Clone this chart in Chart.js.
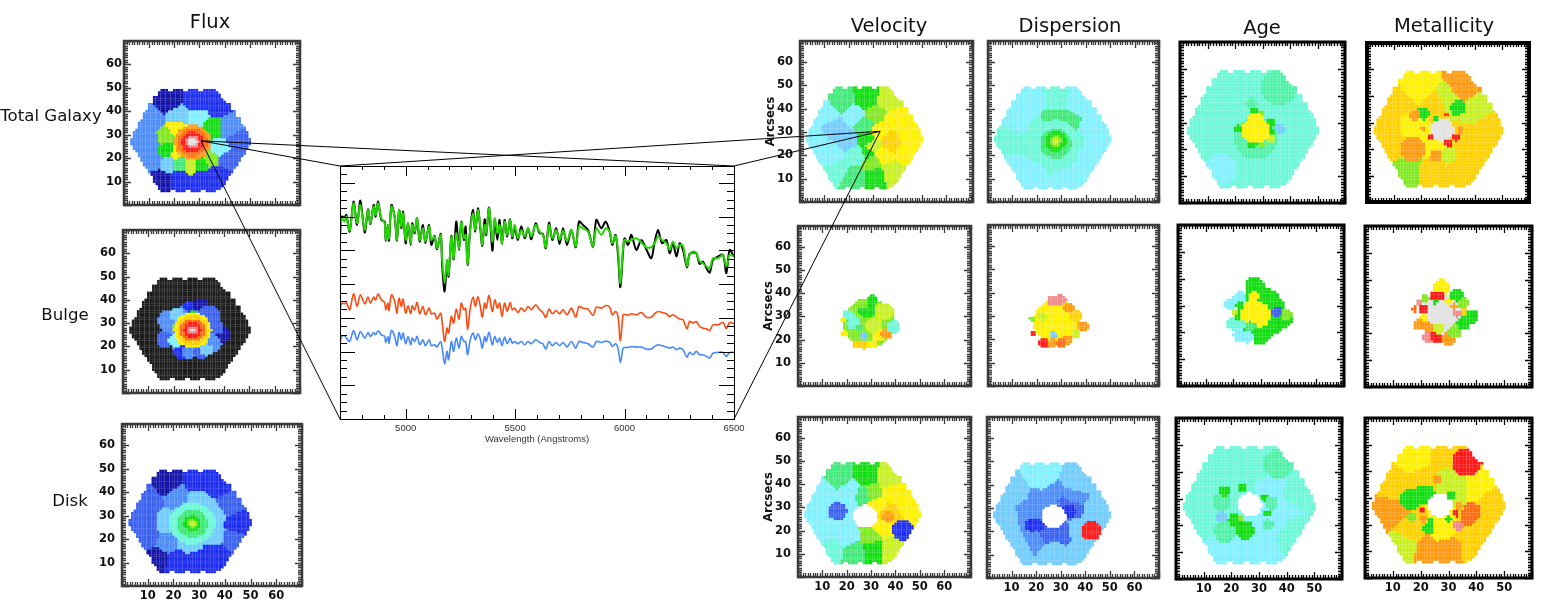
<!DOCTYPE html>
<html>
<head>
<meta charset="utf-8">
<title>Spectral decomposition maps</title>
<script src="https://cdn.jsdelivr.net/npm/chart.js@4/dist/chart.umd.min.js"></script>
<style>
    html, body { margin: 0; padding: 0; background: #fff; overflow: hidden; }
    #page { position: relative; width: 1565px; height: 604px; overflow: hidden; }
    canvas { position: absolute; display: block; }
    canvas.soft { filter: blur(0.55px); }
    canvas.crisp { filter: blur(0.4px); }
    canvas.spectrum { filter: blur(0.3px); }
    .label { position: absolute; font-family: "DejaVu Sans", sans-serif; color: #111; white-space: nowrap; transform: translate(-50%, -50%); }
    .title { font-size: 19.5px; }
    .row { font-size: 16.6px; }
</style>
</head>
<body>
<div id="page"></div>
<script>
// Colour levels of the rainbow table used by the binned maps
const levels = {
    K: '#1c1c1c', N: '#1414a8', B: '#1c2cf0', M: '#3a60f0', L: '#4c8cfa', S: '#70ccff',
    C: '#80f0ff', A: '#6cf8d8', T: '#50f0a8', E: '#40e878', G: '#10dc10', H: '#80e820',
    V: '#c8f020', Y: '#fff000', O: '#ffd000', R: '#ff9a10', D: '#ff6a10', X: '#ff1818',
    P: '#f08888', W: '#e2e2e2'
};

// Spaxel extent of the hexagonal field, one [y, xMin, xMax] per row
const fieldRows = [
    [49,15,36],[48,14,37],[47,14,38],[46,12,38],[45,12,39],[44,12,40],[43,10,42],[42,10,42],
    [41,10,42],[40,9,44],[39,8,44],[38,8,44],[37,8,46],[36,7,46],[35,6,46],[34,6,47],
    [33,6,48],[32,5,48],[31,4,49],[30,4,49],[29,4,49],[28,3,50],[27,3,50],[26,3,50],
    [25,4,49],[24,4,49],[23,5,48],[22,6,48],[21,6,47],[20,7,46],[19,7,46],[18,8,45],
    [17,8,45],[16,9,44],[15,10,43],[14,10,43],[13,11,42],[12,12,41],[11,12,41],[10,12,40],
    [9,13,40],[8,14,39],[7,14,38],[6,15,36]
];
// Gaps between the fibre bumps along the top and bottom edges, [y, x]
const fieldNotches = [
    [49,18],[49,19],[49,24],[49,25],[49,30],[49,31],
    [6,19],[6,20],[6,25],[6,26],[6,31],[6,32]
];

// Map bins: [x, y, level] are Voronoi generators, [x, y, level, r] are round bins painted on top
const fluxTotalBins = [
    [18,44.5,'N'],[29.3,43.8,'B'],[36.6,43,'B'],[10.6,27.5,'L'],[10.6,36,'L'],[12,19,'L'],[42,33,'L'],[45,27.5,'M'],[41,19.7,'M'],
    [14.6,11,'N'],[22.6,10.5,'B'],[30.6,10.5,'B'],[37,13,'B'],[22,38,'S'],[29.3,37.4,'C'],[34.6,32.5,'G'],[21.3,32.5,'Y'],
    [16.6,29,'H'],[17.3,23.3,'G'],[17.3,17.6,'S'],[22.6,17.6,'E'],[26.3,17,'V'],[30.6,17.6,'G'],[34.6,19.7,'H'],[38,24,'C'],[21,22.5,'Y'],
    [27.3,26.8,'R',7.5],[27.3,26.8,'D',6],[27.3,26.8,'X',4.5],[27.3,26.8,'P',2.8],[27.3,26.8,'W',1.8]
];
const fluxBulgeBins = [
    [27,27,'K'],[27.5,27,'L',11],[26.1,37.4,'B',2.5],[30.8,38,'N',3],[18.8,31,'L',5],[34,32.5,'M',5],[39.5,25.4,'N',3.5],[36.8,28,'M',3],
    [16.8,23,'M',3.5],[22.8,17.6,'B',3],[26.1,17.6,'L',3],[30.8,17.6,'M',3],[35.5,21,'L',3.5],[33,18.5,'S',2.5],[21.2,33.9,'S',3],
    [27.5,33.5,'G',2],[21.5,28.2,'H',2],[20.8,22.5,'C',3],[27.5,27,'Y',7.5],[27.5,27,'O',6.5],[27.5,27,'D',5],[27.5,27,'X',3.5],[27.5,27,'P',2],[27.5,27,'W',1]
];
const fluxDiskBins = [
    [17.6,44,'N'],[29.3,44.4,'B'],[37,43,'B'],[9.8,36.6,'M'],[8.5,26.7,'M'],[10.4,20.3,'M'],[41.6,34.5,'M'],[45.5,26.7,'B'],[43,19.6,'M'],
    [13.7,12.5,'N'],[21.5,11,'B'],[29.3,11,'B'],[36.4,14,'B'],[22,38,'L'],[17,18,'L'],[29.3,36.6,'S'],[17.5,26.7,'S'],[35.8,31,'S'],[26.6,18,'S'],[35.8,21,'S'],
    [27.3,26.7,'A',9],[27.3,26.7,'E',6],[27.3,26.7,'G',3.5],[27.3,26.7,'H',2],[27.3,26.7,'V',1]
];
const velocityTotalBins = [
    [17,43.3,'E'],[27.4,44,'G'],[36.3,43.3,'V'],[11,38.3,'C'],[22.6,36.9,'C'],[15,31,'S'],[19,27,'S'],[6.8,25.4,'C'],[13,21,'C'],
    [15.7,14,'A'],[22,11,'E'],[30.8,11.1,'G'],[29.5,16.9,'H'],[37.7,12.6,'V'],[38.4,35.4,'Y'],[37,25.4,'O'],[45,28.3,'Y'],[43.9,21,'Y'],
    [33.6,20.4,'Y'],[30.8,37.6,'H'],[26.7,33,'E'],[27.5,27,'G'],[28,21,'G'],[29.5,24,'V'],[32,30,'Y'],[24,20,'A']
];
const dispersionTotalBins = [
    [18.8,42.6,'C'],[27.7,43.3,'A'],[36.6,41,'C'],[13.3,34,'C'],[42,32.6,'C'],[9.2,26.9,'A'],[44.8,25.4,'C'],[13.3,14,'C'],[27,15.4,'A'],
    [20.2,11,'C'],[29.8,10.4,'C'],[38,14,'C'],[40.7,19.7,'C'],[20.2,31,'A'],[35.2,25.4,'A'],[27,36,'E'],[33.9,35.4,'E'],[22,22,'A'],[33,20,'A'],[16,25,'A'],
    [27.7,26.1,'A',9],[27.7,25,'E',6.5],[27.7,26.1,'G',4.5],[27.7,26.1,'H',2.5],[27.7,26.1,'V',1.5]
];
const ageTotalBins = [
    [18.8,33,'A'],[30,12,'A'],[40,25,'A'],
    [36,43,'T',6.5],[15,12.5,'C',6],[36.4,27.7,'S',2],[26,37,'T',2],[27.5,24,'T',8],[27,34,'G',1.5],[32.7,29.6,'G',2],[33.3,26.5,'G',1.5],[21,27.6,'G',1.5],[26.3,22.1,'G',2],
    [29.7,22.1,'H',1.5],[29.5,33.3,'H',1],[32.9,24,'V',1.5],[27.5,27.1,'Y',5],[27.5,30.8,'Y',3]
];
const metalTotalBins = [
    [19,43.4,'Y'],[7.9,28.4,'O'],[11.6,37,'O'],[10.4,21,'O'],[24,11,'O'],[33.8,11,'O'],[41.2,18.5,'O'],[46.2,28.4,'O'],[36.3,43.4,'R'],[41.2,36,'V'],
    [30.1,37.8,'V'],[15.3,12.2,'H'],[16.6,28.4,'Y'],[26,36,'O'],[22,23,'Y'],[36,24,'O'],
    [17,20,'R',4.5],[25.8,17.5,'R',2.5],[30.1,17.8,'V',3],[20.9,33.4,'G',2.5],[33.8,35.3,'G',3],[27.7,27.2,'W',4.5],[29.3,33,'X',1],[23.6,24.7,'X',1],[32.9,24.4,'X',1.5],[30.1,22.2,'X',1.5],[17.8,32.8,'R',2],
    [25.6,31.7,'G',1],[20.9,27.7,'R',1],[36.9,31.6,'V',2.5],[34.5,27.2,'R',1.5]
];
const velocityBulgeBins = [
    [29,27,'H',10.5],[31.1,26.2,'H',7],[24.3,18,'O',2],[27,18,'O',2],[30.5,18,'Y',2],[33.2,22,'Y',3],[36.4,22.7,'R',2.5],[39.1,25.5,'A',2.7],[35.3,32,'V',4],
    [28.4,32.7,'G',3.5],[30.5,37.3,'G',2],[26.3,35.5,'H',2.5],[22.9,27,'A',3],[20.9,30.5,'A',2.5],[25,24.8,'E',2],[22.9,22,'H',2.5],[18.8,22.7,'Y',1.5],
    [18.4,28.7,'Y',1],[31.1,26.2,'V',3.5],[27,21.5,'S',1.6]
];
const dispersionBulgeBins = [
    [28,27.5,'Y',9.5],[18.1,28.7,'H',1.2],[22.2,29.8,'V',2],[26.3,36.3,'P',2.3],[29.8,37,'P',2.3],[33.2,33.4,'R',2.3],[35.9,29.8,'O',2.5],[38.7,25.5,'R',2.5],
    [36,22.7,'V',2],[32.5,19.8,'R',2],[22.9,18.4,'X',2.2],[26.3,18.4,'R',2],[29.8,18.4,'D',2.2],[18.5,22.7,'X',1.3],[26.7,21.7,'S',1.6]
];
const ageBulgeBins = [
    [30,27,'G',9],[27.8,37,'G',3.5],[32.6,32.1,'G',4],[37.4,25.2,'G',4],[39.2,26.5,'H',2],[35,22.8,'G',3],[31.4,19.6,'G',3],[29.6,17.8,'G',2.5],[35.6,27.7,'M',2],
    [27.8,26.5,'Y',5.5],[27.2,33.3,'Y',2],[22.4,32.7,'C',2.5],[18.8,30.2,'C',2],[20,23.4,'A',2.5],[23,22.8,'A',2],[26.3,22.1,'E',2],[22.4,19,'C',2.5],
    [24.8,18.4,'C',2.5],[22.4,30.2,'G',1.5],[21.2,25.9,'G',1],[20.6,27.7,'V',1]
];
const metalBulgeBins = [
    [28.2,26.9,'W',7.5],[27.6,37.1,'Y',3],[25.2,34,'X',2],[27,34,'X',1.5],[21.6,32.7,'H',1.5],[19.5,31.2,'P',1.2],[17.8,29.1,'D',1.2],[21,28.8,'X',2],[21,25.6,'Y',1.5],
    [19.2,23.2,'R',2],[22.8,22.2,'R',2],[22.8,18.2,'P',2],[25.8,18.8,'X',2.5],[30,18.2,'R',2.5],[26.4,21.9,'V',2],[32.4,20.7,'H',2.5],[35.4,23.8,'G',2.5],
    [38.4,26.3,'G',2.5],[35.4,28.1,'O',1.5],[33,27.3,'P',1.4],[31.8,30,'R',1.2],[30,31.9,'Y',1.2],[33,34.4,'G',2.5],[35.4,31.2,'H',2],[25.2,31.6,'G',1]
];
const velocityDiskBins = [
    [17.3,43,'E'],[27.6,43.8,'G'],[37.2,42.4,'V'],[10.5,36.7,'C'],[21.4,37.4,'C'],[26.9,35.2,'E'],[30.4,36,'H'],[7.7,26.7,'C'],[10.5,19.5,'C'],[14.6,12.4,'A'],
    [22.8,11,'E'],[20,16.7,'C'],[31,12.4,'G'],[30.4,17.4,'H'],[37.9,12.4,'V'],[39.3,36,'Y'],[45.4,31,'Y'],[37.2,27.4,'O'],[34.5,21,'Y'],[32.4,31,'Y'],[20,31,'C'],[16,24,'C'],
    [16.2,28.4,'M',4],[37,26,'R',2.5],[27.6,26.2,' ',5],[43.1,20.2,'B',4.5]
];
const dispersionDiskBins = [
    [11,36,'S'],[8,27,'S'],[23,42.8,'C'],[36,41,'S'],[45,28,'S'],[12,13,'S'],[27,11,'S'],[38,13,'S'],[16.2,28.5,'L'],[27.2,36.3,'L'],[34.1,34.9,'L'],[20.4,17,'L'],
    [31.3,19.2,'M'],[23.1,18.5,'M'],[33.5,30,'M'],[36,20,'S'],[22,33,'L'],
    [18.3,22.8,'B',3],[21,22.5,'B',2.5],[31,33,'M',2],[33.4,28.5,'B',3],[42.3,20.2,'X',4.2],[27.2,26.3,' ',5]
];
const ageDiskBins = [
    [17.7,11.4,'C'],[29.7,12.7,'C'],[8,31.3,'A'],[20,43.8,'A'],[30,42,'A'],[43,31.3,'A'],[42,18,'A'],[34.5,33.8,'C'],[39.3,26.3,'C'],[35.7,21.4,'C'],[22,35,'A'],[13,22,'A'],
    [37,43.1,'T',5.5],[16.5,28.8,'T',3.5],[17.7,32.8,'G',2.2],[23.9,34,'G',1.5],[26.7,27.6,' ',4.5],[32.1,30.1,'G',1.5],[32.7,24.5,'G',1.5],[34.5,28.2,'T',2.5],[16.5,23.2,'S',2.3],
    [17.7,17.6,'T',4],[21.3,22,'G',2.5],[24.9,18.3,'G',3.5],[23.7,22.6,'H',1],[33.3,20.1,'T',2]
];
const metalDiskBins = [
    [19.2,43.5,'Y'],[27.6,44,'O'],[10.8,34.7,'O'],[8.4,24.8,'R'],[14.4,12.4,'V'],[22.2,11.1,'R'],[30,11.1,'R'],[38.4,12.4,'O'],[45.6,27.3,'O'],[39.6,34.7,'Y'],
    [21,38.5,'O'],[30,37.9,'V'],[34.2,34.7,'V'],[16.8,17.3,'O'],[36,17.3,'O'],[28.2,18,'Y'],
    [36.6,43.5,'X',5.5],[16.5,29.5,'G',4],[21.5,31,'G',4],[25.8,37.2,'R',1.8],[27,27.3,' ',4.5],[31.2,31,'G',1.8],[38.4,24.8,'D',3.5],[36.6,21.7,'D',2.5],[33.4,19.8,'P',2],
    [32.7,24.2,'X',1.3],[20.4,25.4,'X',1.2],[16.8,22.9,'H',2],[21,22.4,'R',1.5],[22.8,18.6,'G',2.2],[23.4,21.7,'G',1.2],[30,21.9,'G',1.2],[33.6,27.3,'R',1.5]
];

// Spectrum: wavelength grid (Angstroms) and flux of the four curves in arbitrary units
const wavelengths = [
    4700,4708,4721,4729,4744,4762,4778,4793,4813,4828,
    4839,4854,4863,4874,4889,4904,4909,4919,4924,4935,
    4950,4960,4970,4980,4988,5000,5011,5023,5030,5041,
    5052,5064,5079,5090,5107,5117,5132,5143,5160,5167,
    5178,5189,5196,5209,5219,5231,5244,5254,5266,5274,
    5283,5295,5308,5318,5330,5341,5350,5361,5368,5381,
    5396,5407,5419,5429,5440,5452,5464,5477,5487,5498,
    5513,5528,5544,5559,5574,5594,5612,5627,5640,5655,
    5670,5688,5703,5719,5737,5757,5777,5792,5810,5833,
    5856,5871,5894,5914,5932,5944,5959,5970,5981,5993,
    6000,6016,6031,6054,6077,6099,6122,6137,6153,6171,
    6191,6206,6221,6237,6252,6267,6285,6297,6313,6328,
    6343,6358,6374,6389,6404,6427,6450,6465,6480,6500
];
const observedFlux = [
    556,608,606,613,563,653,583,656,560,630,
    586,643,608,653,598,593,536,583,536,643,
    606,536,628,573,623,528,588,523,588,558,
    603,533,583,528,583,523,550,510,556,458,
    383,468,428,550,480,593,508,593,538,578,
    463,573,628,563,633,573,520,600,553,635,
    506,598,538,598,526,598,548,600,543,573,
    538,578,543,573,540,588,558,556,513,590,
    538,573,526,573,523,568,516,593,583,568,
    518,598,573,593,563,523,553,493,396,503,
    543,523,553,508,538,510,483,530,568,528,
    538,498,528,488,528,508,456,496,500,498,
    466,473,453,440,478,488,493,438,508,488
];
const modelFlux = [
    553,603,593,608,566,648,588,643,568,628,
    588,638,613,648,603,588,538,583,543,638,
    608,538,628,578,618,538,588,528,583,563,
    603,538,573,533,578,538,548,513,553,478,
    408,478,433,548,483,558,513,593,543,553,
    466,568,618,568,628,578,523,583,558,633,
    533,603,558,583,528,593,553,598,548,583,
    543,568,548,573,548,583,563,553,516,583,
    543,568,538,566,533,568,518,578,573,563,
    520,573,553,573,563,528,550,508,408,513,
    538,533,538,543,530,516,516,528,548,538,
    528,508,533,513,523,520,460,493,503,498,
    473,468,458,453,483,483,493,458,493,488
];
const bulgeFlux = [
    326,348,346,350,328,376,338,373,346,366,
    348,366,358,376,358,350,328,348,326,373,
    353,318,363,338,360,318,340,316,340,328,
    350,316,338,313,333,316,318,300,318,288,
    233,273,258,308,288,330,300,348,328,333,
    268,333,366,338,368,338,306,348,333,371,
    323,358,333,348,308,348,323,350,328,333,
    320,333,323,338,328,343,328,320,305,330,
    316,326,316,328,313,333,306,338,333,330,
    311,336,333,341,336,313,323,308,235,313,
    314,312,316,313,320,306,306,316,323,320,
    316,308,313,306,300,298,271,293,288,293,
    278,273,271,266,283,283,290,272,290,286
];
const diskFlux = [
    228,248,250,243,233,266,238,263,243,260,
    248,260,253,265,253,248,230,248,228,266,
    248,220,260,238,258,226,248,223,243,233,
    248,223,238,220,238,220,223,216,233,213,
    166,203,178,233,203,243,213,248,233,233,
    193,238,258,238,256,240,213,248,233,260,
    223,248,230,243,220,246,226,243,228,233,
    226,233,223,233,226,238,230,226,210,233,
    220,230,220,230,216,233,213,233,230,226,
    216,233,230,234,230,218,226,213,170,213,
    215,215,218,216,216,210,210,218,223,220,
    216,213,216,208,213,208,186,200,193,203,
    193,193,188,183,198,200,200,188,200,200
];

const tickValues = [10, 20, 30, 40, 50, 60];
const spectrumLabels = [5000, 5500, 6000, 6500];

// Panel boxes on the page: left, right, top, bottom, axis range, frame weight, which labels show
const panels = [
    { bins: fluxTotalBins,       l: 123.5, r: 299,   t: 41,  b: 204.5, xMax: 70, yMax: 70, w: 2.5, yl: 2 },
    { bins: fluxBulgeBins,       l: 123,   r: 300,   t: 230, b: 393,   xMax: 70, yMax: 70, w: 2.5, yl: 7 },
    { bins: fluxDiskBins,        l: 122,   r: 301.5, t: 424, b: 586,   xMax: 70, yMax: 69, w: 2.5, yl: 7, xl: true },
    { bins: velocityTotalBins,   l: 800,   r: 972.5, t: 41,  b: 202,   xMax: 71, yMax: 69, w: 2.5, yl: 7, arc: true },
    { bins: dispersionTotalBins, l: 988,   r: 1159,  t: 41,  b: 202,   xMax: 70, yMax: 69, w: 2.5 },
    { bins: ageTotalBins,        l: 1180,  r: 1345,  t: 42,  b: 203,   xMax: 60, yMax: 60, w: 3, black: true },
    { bins: metalTotalBins,      l: 1367,  r: 1529,  t: 43,  b: 202,   xMax: 60, yMax: 60, w: 4, black: true },
    { bins: velocityBulgeBins,   l: 798,   r: 970.5, t: 226, b: 386,   xMax: 71, yMax: 69, w: 2.5, yl: 7, arc: true },
    { bins: dispersionBulgeBins, l: 988,   r: 1159,  t: 225, b: 386,   xMax: 70, yMax: 69, w: 2.5 },
    { bins: ageBulgeBins,        l: 1178,  r: 1344,  t: 225, b: 386,   xMax: 60, yMax: 60, w: 3, black: true },
    { bins: metalBulgeBins,      l: 1365,  r: 1532,  t: 226, b: 387,   xMax: 60, yMax: 60, w: 3, black: true },
    { bins: velocityDiskBins,    l: 798,   r: 970.5, t: 417, b: 577,   xMax: 71, yMax: 69, w: 2.5, yl: 7, xl: true, arc: true },
    { bins: dispersionDiskBins,  l: 987,   r: 1159,  t: 417, b: 578,   xMax: 70, yMax: 69, w: 2.5, xl: true },
    { bins: ageDiskBins,         l: 1176,  r: 1342,  t: 418, b: 579,   xMax: 60, yMax: 60, w: 3, black: true, xl: true },
    { bins: metalDiskBins,       l: 1365,  r: 1532,  t: 418, b: 578,   xMax: 60, yMax: 60, w: 3, black: true, xl: true }
];

const page = document.getElementById('page');

function addCanvas(left, top, width, height, cls) {
    const canvas = document.createElement('canvas');
    canvas.width = width;
    canvas.height = height;
    canvas.style.left = left + 'px';
    canvas.style.top = top + 'px';
    canvas.style.width = width + 'px';
    canvas.style.height = height + 'px';
    if (cls) canvas.className = cls;
    page.appendChild(canvas);
    return canvas;
}

function addLabel(text, x, y, cls) {
    const div = document.createElement('div');
    div.className = 'label ' + cls;
    div.textContent = text;
    div.style.left = x + 'px';
    div.style.top = y + 'px';
    page.appendChild(div);
}

// Assign every spaxel of the field to its nearest generator, then paint the round bins
function spaxelDatasets(bins, size) {
    const generators = bins.filter(b => b.length === 3);
    const rounds = bins.filter(b => b.length === 4);
    const groups = {};
    fieldRows.forEach(([y, xMin, xMax]) => {
        for (let x = xMin; x <= xMax; x++) {
            if (fieldNotches.some(n => n[0] === y && n[1] === x)) continue;
            let level = null;
            let best = Infinity;
            generators.forEach(g => {
                const d = (g[0] - x) ** 2 + (g[1] - y) ** 2;
                if (d < best) { best = d; level = g[2]; }
            });
            rounds.forEach(c => {
                if ((c[0] - x) ** 2 + (c[1] - y) ** 2 <= c[3] * c[3]) level = c[2];
            });
            if (!level || level === ' ') continue;
            (groups[level] = groups[level] || []).push({ x, y });
        }
    });
    return Object.keys(groups).map(key => ({
        data: groups[key],
        backgroundColor: levels[key],
        borderWidth: 0,
        pointStyle: 'rect',
        pointRadius: size * Math.SQRT1_2
    }));
}

// Inward tick marks on all four sides of a plot, minor and major
function drawTicks(chart, ctx, xStep, xMajor, yStep, yMajor, xLen, xMinorLen, yLen, yMinorLen) {
    const { x: sx, y: sy } = chart.scales;
    const area = chart.chartArea;
    ctx.beginPath();
    for (let v = Math.ceil(sx.min / xStep) * xStep; v <= sx.max; v += xStep) {
        const px = Math.round(sx.getPixelForValue(v)) + 0.5;
        const len = Math.abs(v / xMajor - Math.round(v / xMajor)) < 1e-6 ? xLen : xMinorLen;
        ctx.moveTo(px, area.bottom); ctx.lineTo(px, area.bottom - len);
        ctx.moveTo(px, area.top); ctx.lineTo(px, area.top + len);
    }
    for (let v = 0; v <= sy.max + 1e-6; v += yStep) {
        const py = Math.round(sy.getPixelForValue(v)) + 0.5;
        const len = Math.abs(v / yMajor - Math.round(v / yMajor)) < 1e-6 ? yLen : yMinorLen;
        ctx.moveTo(area.left, py); ctx.lineTo(area.left + len, py);
        ctx.moveTo(area.right, py); ctx.lineTo(area.right - len, py);
    }
    ctx.stroke();
}

const mapFrame = {
    id: 'mapFrame',
    afterDatasetsDraw(chart, args, opts) {
        const ctx = chart.ctx;
        const a = chart.chartArea;
        ctx.save();
        ctx.strokeStyle = opts.color;
        ctx.lineWidth = 1.3;
        drawTicks(chart, ctx, 1, 10, 1, 10, 7, 4, 7, 4);
        ctx.lineWidth = opts.weight;
        ctx.strokeRect(a.left, a.top, a.right - a.left, a.bottom - a.top);
        ctx.restore();
    }
};

const spectrumFrame = {
    id: 'spectrumFrame',
    afterDatasetsDraw(chart) {
        const ctx = chart.ctx;
        const a = chart.chartArea;
        ctx.save();
        ctx.strokeStyle = '#000';
        ctx.lineWidth = 1;
        drawTicks(chart, ctx, 100, 500, 760 / 30, 760 / 7.5, 10, 4, 15, 7);
        ctx.strokeRect(a.left + 0.5, a.top + 0.5, a.right - a.left, a.bottom - a.top);
        ctx.restore();
    }
};

// Margins stay larger than the half-label padding the scales ask for, so each plot area lands on its box
const MARGIN = { left: 48, right: 16, top: 16, bottom: 24 };
const mapCharts = panels.map(p => {
    const canvas = addCanvas(Math.round(p.l) - MARGIN.left, Math.round(p.t) - MARGIN.top,
        Math.round(p.r - p.l) + MARGIN.left + MARGIN.right, Math.round(p.b - p.t) + MARGIN.top + MARGIN.bottom,
        p.black ? 'crisp' : 'soft');
    const tickLabels = max => v => (tickValues.includes(v) && v < max ? String(v) : '');
    const tickFont = { family: 'DejaVu Sans', size: 11.5, weight: 'bold' };
    const size = Math.max((p.r - p.l) / p.xMax, (p.b - p.t) / p.yMax) * 1.02;
    return new Chart(canvas, {
        type: 'scatter',
        data: { datasets: spaxelDatasets(p.bins, size) },
        options: {
            responsive: false,
            animation: false,
            events: [],
            layout: { padding: { top: MARGIN.top, right: MARGIN.right } },
            plugins: {
                legend: { display: false },
                tooltip: { enabled: false },
                mapFrame: { color: p.black ? '#000' : '#3a3a3a', weight: p.w }
            },
            scales: {
                x: {
                    type: 'linear', min: 0, max: p.xMax,
                    grid: { display: false, drawTicks: false }, border: { display: false },
                    afterFit: s => { s.height = MARGIN.bottom; },
                    ticks: { stepSize: 10, autoSkip: false, maxRotation: 0, padding: 3, color: '#111', font: tickFont, display: !!p.xl, callback: tickLabels(p.xMax) }
                },
                y: {
                    type: 'linear', min: 0, max: p.yMax,
                    grid: { display: false, drawTicks: false }, border: { display: false },
                    afterFit: s => { s.width = MARGIN.left; },
                    title: { display: !!p.arc, text: 'Arcsecs', color: '#111', font: tickFont, padding: { top: 12, bottom: 0 } },
                    ticks: { stepSize: 10, autoSkip: false, padding: p.yl || 3, color: '#111', font: tickFont, display: !!p.yl, callback: tickLabels(p.yMax) }
                }
            }
        },
        plugins: [mapFrame]
    });
});

// Spectrum panel in the middle
const specCanvas = addCanvas(340 - 10, 166 - 6, 394 + 10 + 20, 253 + 6 + 26, 'spectrum');
const lineStyle = (data, color, width) => ({
    data: wavelengths.map((w, i) => ({ x: w, y: data[i] })),
    borderColor: color,
    borderWidth: width,
    showLine: true,
    pointRadius: 0,
    tension: 0.3
});
const spectrumChart = new Chart(specCanvas, {
    type: 'scatter',
    data: {
        // first dataset is painted last, so the model sits over the observed curve
        datasets: [
            lineStyle(modelFlux, '#22d800', 2),
            lineStyle(observedFlux, '#000000', 2),
            lineStyle(bulgeFlux, '#ff4a10', 1.6),
            lineStyle(diskFlux, '#4488ff', 1.6)
        ]
    },
    options: {
        responsive: false,
        animation: false,
        events: [],
        layout: { padding: { left: 10, right: 20, top: 6 } },
        plugins: { legend: { display: false }, tooltip: { enabled: false } },
        scales: {
            x: {
                type: 'linear', min: 4700, max: 6500,
                grid: { display: false, drawTicks: false }, border: { display: false },
                afterFit: s => { s.height = 26; },
                title: { display: true, text: 'Wavelength (Angstroms)', color: '#333', font: { family: 'Liberation Sans', size: 9.5 }, padding: { top: 0, bottom: 0 } },
                ticks: {
                    stepSize: 100, autoSkip: false, maxRotation: 0, padding: 4, color: '#333',
                    font: { family: 'Liberation Sans', size: 9.5 },
                    callback: v => (spectrumLabels.includes(v) ? String(v) : '')
                }
            },
            y: { type: 'linear', min: 0, max: 760, display: false }
        }
    },
    plugins: [spectrumFrame]
});

// Page-space position of a data point in any of the charts
function pagePoint(chart, x, y) {
    const c = chart.canvas;
    return {
        x: c.offsetLeft + chart.scales.x.getPixelForValue(x),
        y: c.offsetTop + chart.scales.y.getPixelForValue(y)
    };
}

// Leader lines from the sampled spaxel to the corners of the spectrum panel
const fluxSpaxel = pagePoint(mapCharts[0], 30.6, 27.4);
const velocitySpaxel = pagePoint(mapCharts[3], 32.9, 30.3);
const specTopLeft = pagePoint(spectrumChart, 4700, 760);
const specTopRight = pagePoint(spectrumChart, 6500, 760);
const specBottomLeft = pagePoint(spectrumChart, 4700, 0);
const specBottomRight = pagePoint(spectrumChart, 6500, 0);
const leaderLines = [
    [fluxSpaxel, specTopLeft], [fluxSpaxel, specTopRight], [fluxSpaxel, specBottomLeft],
    [velocitySpaxel, specTopLeft], [velocitySpaxel, specTopRight], [velocitySpaxel, specBottomRight]
];
new Chart(addCanvas(0, 0, 1565, 604), {
    type: 'scatter',
    data: {
        datasets: leaderLines.map(line => ({
            data: line,
            showLine: true,
            borderColor: '#000',
            borderWidth: 1,
            pointRadius: 0
        }))
    },
    options: {
        responsive: false,
        animation: false,
        events: [],
        plugins: { legend: { display: false }, tooltip: { enabled: false } },
        scales: {
            x: { type: 'linear', min: 0, max: 1565, display: false },
            y: { type: 'linear', min: 0, max: 604, reverse: true, display: false }
        }
    }
});

// Column and row headings
addLabel('Flux', 210, 21, 'title');
addLabel('Velocity', 889, 25, 'title');
addLabel('Dispersion', 1070, 25, 'title');
addLabel('Age', 1262, 27, 'title');
addLabel('Metallicity', 1444, 25, 'title');
addLabel('Total Galaxy', 51, 115, 'row');
addLabel('Bulge', 65, 314, 'row');
addLabel('Disk', 70, 500, 'row');
</script>
</body>
</html>
